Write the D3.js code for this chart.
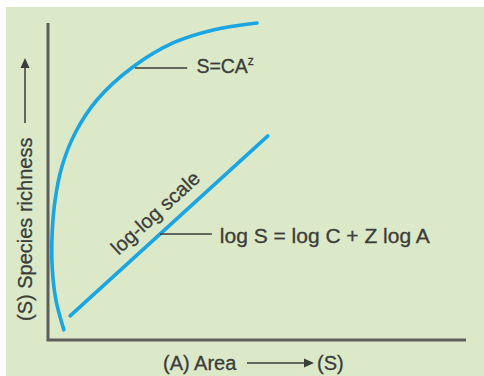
<!DOCTYPE html>
<html>
<head>
<meta charset="utf-8">
<script src="https://cdn.jsdelivr.net/npm/d3@7"></script>
<style>
  html, body { margin: 0; padding: 0; background: #fff; }
  svg { display: block; }
  text { font-family: "Liberation Sans", Arial, sans-serif; fill: #3b3d3a; stroke: #3b3d3a; stroke-width: 0.3px; }
</style>
</head>
<body>
<script>
// species-area curve (S = CA^z), arbitrary units
var curveArea = [3.8, 1.9, 1.0, 1.0, 1.7, 3.3, 6.5, 11.7, 20.3, 29.9, 39.5, 50.0];
var curveRichness = [3.2, 12.6, 23.0, 33.8, 44.2, 54.6, 65.3, 75.7, 86.1, 93.7, 97.8, 100.0];

// log-log straight line
var logArea = [5.3, 52.6];
var logRichness = [7.6, 64.4];

var width = 484, height = 376;

var svg = d3.select("body").append("svg")
    .attr("width", width)
    .attr("height", height);

// green panel
svg.append("rect")
    .attr("x", 6).attr("y", 7)
    .attr("width", width - 6).attr("height", height - 7)
    .attr("fill", "#dce9c9");

var x = d3.scaleLinear().domain([0, 100]).range([48, 466]);
var y = d3.scaleLinear().domain([0, 100]).range([340, 23]);

var blue = "#1ba5e2";

// axes
svg.append("path")
    .attr("d", "M" + x(0) + "," + y(100) + "V" + y(0) + "H" + x(100))
    .attr("fill", "none")
    .attr("stroke", "#5d5f5b")
    .attr("stroke-width", 3);

var line = d3.line()
    .x(function(d) { return x(d[0]); })
    .y(function(d) { return y(d[1]); });

svg.append("path")
    .datum(d3.zip(curveArea, curveRichness))
    .attr("d", line.curve(d3.curveCatmullRom.alpha(0.5)))
    .attr("fill", "none")
    .attr("stroke", blue)
    .attr("stroke-width", 3.6)
    .attr("stroke-linecap", "round");

svg.append("path")
    .datum(d3.zip(logArea, logRichness))
    .attr("d", d3.line().x(function(d) { return x(d[0]); }).y(function(d) { return y(d[1]); }))
    .attr("fill", "none")
    .attr("stroke", blue)
    .attr("stroke-width", 3.6)
    .attr("stroke-linecap", "round");

// leader lines
function leader(x0, x1, yv) {
  svg.append("line")
      .attr("x1", x(x0)).attr("x2", x(x1))
      .attr("y1", y(yv)).attr("y2", y(yv))
      .attr("stroke", "#3b3d3a")
      .attr("stroke-width", 1.5);
}
leader(20.8, 33.3, 85.8);
leader(26.8, 39.2, 33.4);

var eq1 = svg.append("text")
    .attr("x", x(35.5)).attr("y", y(84.2))
    .attr("font-size", 19.5);
eq1.append("tspan").text("S=CA");
eq1.append("tspan").attr("font-size", 12).attr("dy", -8).text("z");

svg.append("text")
    .attr("x", x(41.1)).attr("y", y(30.6))
    .attr("font-size", 19.5)
    .attr("textLength", 210)
    .attr("lengthAdjust", "spacingAndGlyphs")
    .text("log S = log C + Z log A");

var lx = (x(logArea[0]) + x(logArea[1])) / 2,
    ly = (y(logRichness[0]) + y(logRichness[1])) / 2;
var ang = Math.atan2(y(logRichness[1]) - y(logRichness[0]), x(logArea[1]) - x(logArea[0])) * 180 / Math.PI;
svg.append("text")
    .attr("transform", "translate(" + (lx - 9) + "," + (ly - 8) + ") rotate(" + ang + ")")
    .attr("text-anchor", "middle")
    .attr("font-size", 20)
    .text("log-log scale");

// axis titles
svg.append("text")
    .attr("transform", "translate(32,321) rotate(-90)")
    .attr("font-size", 20)
    .text("(S) Species richness");

svg.append("text")
    .attr("x", 163).attr("y", 370)
    .attr("font-size", 20)
    .text("(A) Area");

svg.append("text")
    .attr("x", 317).attr("y", 370)
    .attr("font-size", 20)
    .text("(S)");

// arrows
svg.append("line")
    .attr("x1", 25).attr("x2", 25)
    .attr("y1", 123).attr("y2", 66)
    .attr("stroke", "#3b3d3a").attr("stroke-width", 1.5);
svg.append("path")
    .attr("d", "M25,58L20.5,68L29.5,68Z")
    .attr("fill", "#3b3d3a");

svg.append("line")
    .attr("x1", 247).attr("x2", 306)
    .attr("y1", 363).attr("y2", 363)
    .attr("stroke", "#3b3d3a").attr("stroke-width", 1.5);
svg.append("path")
    .attr("d", "M314,363L304,358.5L304,367.5Z")
    .attr("fill", "#3b3d3a");
</script>
</body>
</html>
